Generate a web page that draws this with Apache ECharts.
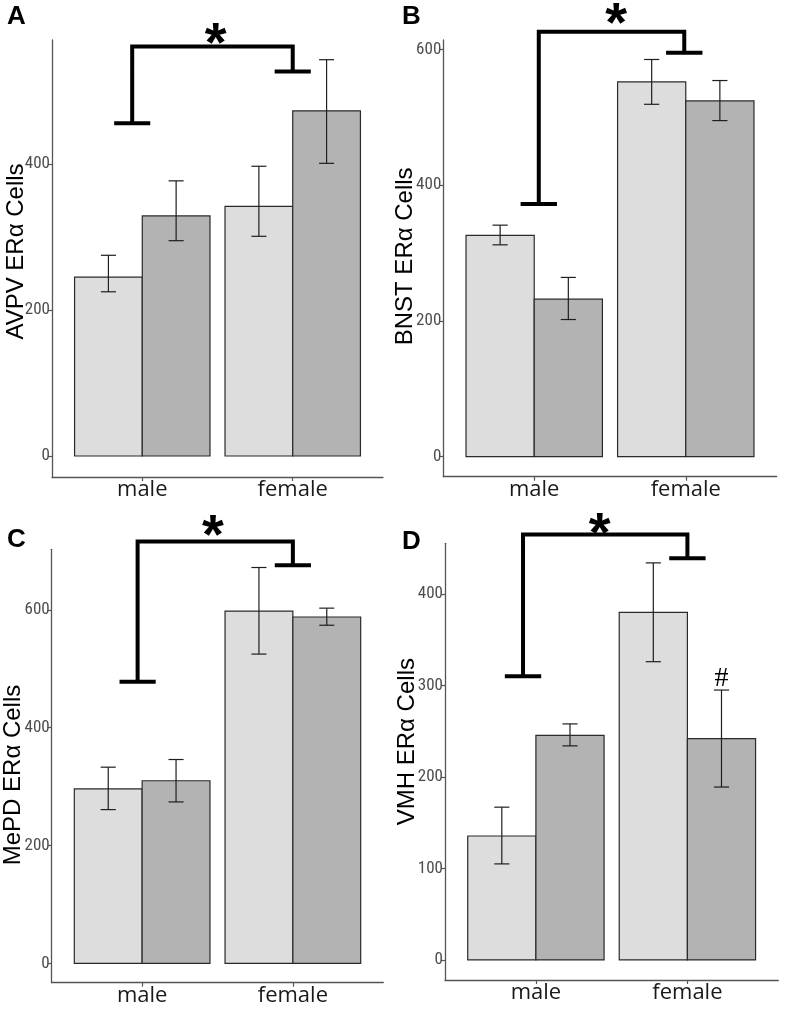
<!DOCTYPE html>
<html><head><meta charset="utf-8">
<script src="https://cdn.jsdelivr.net/npm/echarts@6/dist/echarts.min.js"></script>
<style>html,body{margin:0;padding:0;background:#fff}#c{width:785px;height:1019px}</style>
</head><body><div id="c"></div>
<script>
const categories = ['male', 'female'];
const panelLetters = ['A', 'B', 'C', 'D'];
const yTitles = ['AVPV ERα Cells', 'BNST ERα Cells', 'MePD ERα Cells', 'VMH ERα Cells'];

// bars: [category index, group (0 = light, 1 = dark), mean, lower, upper]
const avpvBars = [[0, 0, 245, 225, 275], [0, 1, 329, 295, 377], [1, 0, 342, 301, 397], [1, 1, 473, 401, 543]];
const bnstBars = [[0, 0, 326, 312, 341], [0, 1, 232, 202, 264], [1, 0, 552, 519, 585], [1, 1, 524, 495, 554]];
const mepdBars = [[0, 0, 296, 261, 333], [0, 1, 310, 274, 346], [1, 0, 598, 525, 672], [1, 1, 588, 574, 603]];
const vmhBars  = [[0, 0, 135.5, 105, 167], [0, 1, 245.5, 234, 258], [1, 0, 380, 326, 434], [1, 1, 242, 189, 295]];

// y tick values
const avpvTicks = [0, 200, 400];
const bnstTicks = [0, 200, 400, 600];
const mepdTicks = [0, 200, 400, 600];
const vmhTicks  = [0, 100, 200, 300, 400];

// y axis ranges
const avpvRange = [-28.8, 570];
const bnstRange = [-29.5, 613.7];
const mepdRange = [-32.9, 702.9];
const vmhRange  = [-21.9, 455.4];

// significance bracket: [xLeft, leftFootY, xRight, rightFootY, topY, starX, starY]
const avpvBracket = [-0.067, 456, 1.0, 527, 561, 0.487, 579];
const bnstBracket = [0.03, 372, 0.99, 595, 626, 0.54, 653];
const mepdBracket = [-0.03, 478, 1.0, 676, 716, 0.47, 744];
const vmhBracket  = [-0.085, 310, 1.0, 439, 465, 0.42, 477];

// '#' marker: [category index, group, y]
const vmhHash = [[1, 1, 308]];

const panelBars = [avpvBars, bnstBars, mepdBars, vmhBars];
const panelTicks = [avpvTicks, bnstTicks, mepdTicks, vmhTicks];
const panelRanges = [avpvRange, bnstRange, mepdRange, vmhRange];
const panelBrackets = [avpvBracket, bnstBracket, mepdBracket, vmhBracket];
const panelHash = [[], [], [], vmhHash];

const grids = [
  {left: 52, top: 40, width: 331, height: 437},
  {left: 443.3, top: 40, width: 333.4, height: 436.7},
  {left: 51.7, top: 549.3, width: 331.6, height: 433.4},
  {left: 445, top: 543.3, width: 333.3, height: 436.7}
].map(g => Object.assign({outerBoundsMode: 'none', containLabel: false}, g));
const titleShift = [14, 4, -18, 40];
const titleGap = [24, 26, 26, 26];
const letterPos = [[7, 4], [402, 4], [7, 527], [402, 529]];

const axisColor = '#555555';
const DODGE = 0.225, BARW = 0.45, WHISK = 0.1;

function renderBar(params, api) {
  const cat = api.value(0), grp = api.value(1);
  const x = cat + (grp === 0 ? -DODGE : DODGE);
  const top = api.coord([x, api.value(2)]);
  const base = api.coord([x, 0]);
  const lo = api.coord([x, api.value(3)]);
  const hi = api.coord([x, api.value(4)]);
  const w = api.size([BARW, 0])[0];
  const ww = api.size([WHISK, 0])[0] / 2;
  const es = {stroke: '#1e1e1e', lineWidth: 1.2};
  return {type: 'group', children: [
    {type: 'rect', shape: {x: top[0] - w / 2, y: top[1], width: w, height: base[1] - top[1]},
     style: {fill: grp ? '#b3b3b3' : '#dddddd', stroke: '#2a2a2a', lineWidth: 1.2}},
    {type: 'line', shape: {x1: lo[0], y1: lo[1], x2: hi[0], y2: hi[1]}, style: es},
    {type: 'line', shape: {x1: hi[0] - ww, y1: hi[1], x2: hi[0] + ww, y2: hi[1]}, style: es},
    {type: 'line', shape: {x1: lo[0] - ww, y1: lo[1], x2: lo[0] + ww, y2: lo[1]}, style: es}
  ]};
}

function renderBracket(params, api) {
  const xl = api.value(0), lf = api.value(1), xr = api.value(2), rf = api.value(3), tp = api.value(4);
  const p1 = api.coord([xl, lf]), p2 = api.coord([xl, tp]), p3 = api.coord([xr, tp]), p4 = api.coord([xr, rf]);
  const st = api.coord([api.value(5), api.value(6)]);
  const fw = api.size([0.24, 0])[0] / 2;
  const ls = {stroke: '#000', lineWidth: 4, fill: null, lineCap: 'butt', lineJoin: 'miter'};
  return {type: 'group', children: [
    {type: 'polyline', shape: {points: [p1, p2, p3, p4]}, style: ls},
    {type: 'line', shape: {x1: p1[0] - fw, y1: p1[1], x2: p1[0] + fw, y2: p1[1]}, style: ls},
    {type: 'line', shape: {x1: p4[0] - fw, y1: p4[1], x2: p4[0] + fw, y2: p4[1]}, style: ls},
    {type: 'text', x: st[0], y: st[1] + 12, style: {text: '*', fill: '#000', font: 'bold 56px "Liberation Sans", Arial, sans-serif', align: 'center', verticalAlign: 'middle'}}
  ]};
}

function renderHash(params, api) {
  const x = api.value(0) + (api.value(1) === 0 ? -DODGE : DODGE);
  const p = api.coord([x, api.value(2)]);
  return {type: 'text', x: p[0], y: p[1], style: {text: '#', fill: '#000', font: '28px "Liberation Serif", "DejaVu Serif", serif', align: 'center', verticalAlign: 'middle'}};
}

const xAxes = [], yAxes = [], series = [], graphics = [];
for (let i = 0; i < 4; i++) {
  xAxes.push({
    type: 'value', gridIndex: i, min: -0.6, max: 1.6,
    splitLine: {show: false},
    axisLine: {show: true, onZero: false, lineStyle: {color: axisColor, width: 1.3}},
    axisTick: {show: true, customValues: [0, 1], length: 4, lineStyle: {color: axisColor, width: 1.2}},
    axisLabel: {show: true, customValues: [0, 1], formatter: v => categories[Math.round(v)],
      fontFamily: '"Open Sans", sans-serif', fontSize: 22, color: '#1a1a1a', margin: 2}
  });
  yAxes.push({
    type: 'value', gridIndex: i, min: panelRanges[i][0], max: panelRanges[i][1],
    splitLine: {show: false},
    axisLine: {show: true, onZero: false, lineStyle: {color: axisColor, width: 1.3}},
    axisTick: {show: true, customValues: panelTicks[i], length: 4, lineStyle: {color: axisColor, width: 1.2}},
    axisLabel: {show: true, customValues: panelTicks[i], fontFamily: '"Liberation Sans Narrow", "Roboto Condensed", sans-serif',
      fontSize: 17, color: '#4d4d4d', margin: 2},
    name: yTitles[i], nameLocation: 'middle', nameGap: titleGap[i], nameMoveOverlap: false,
    nameTextStyle: {fontFamily: '"Liberation Sans", Arial, sans-serif', fontSize: 24, color: '#000',
      padding: titleShift[i] >= 0 ? [0, 0, 0, titleShift[i]] : [0, -titleShift[i], 0, 0]}
  });
  series.push({type: 'custom', xAxisIndex: i, yAxisIndex: i, renderItem: renderBar, data: panelBars[i], clip: false, silent: true});
  series.push({type: 'custom', xAxisIndex: i, yAxisIndex: i, renderItem: renderBracket, data: [panelBrackets[i]], clip: false, silent: true, z: 5});
  if (panelHash[i].length) {
    series.push({type: 'custom', xAxisIndex: i, yAxisIndex: i, renderItem: renderHash, data: panelHash[i], clip: false, silent: true, z: 5});
  }
  graphics.push({type: 'text', left: letterPos[i][0], top: letterPos[i][1],
    style: {text: panelLetters[i], fill: '#000', font: 'bold 26px "Liberation Sans", Arial, sans-serif'}});
}

const chart = echarts.init(document.getElementById('c'), null, {renderer: 'canvas'});
chart.setOption({
  animation: false,
  backgroundColor: '#ffffff',
  grid: grids,
  xAxis: xAxes,
  yAxis: yAxes,
  series: series,
  graphic: graphics
});
</script>
</body></html>
